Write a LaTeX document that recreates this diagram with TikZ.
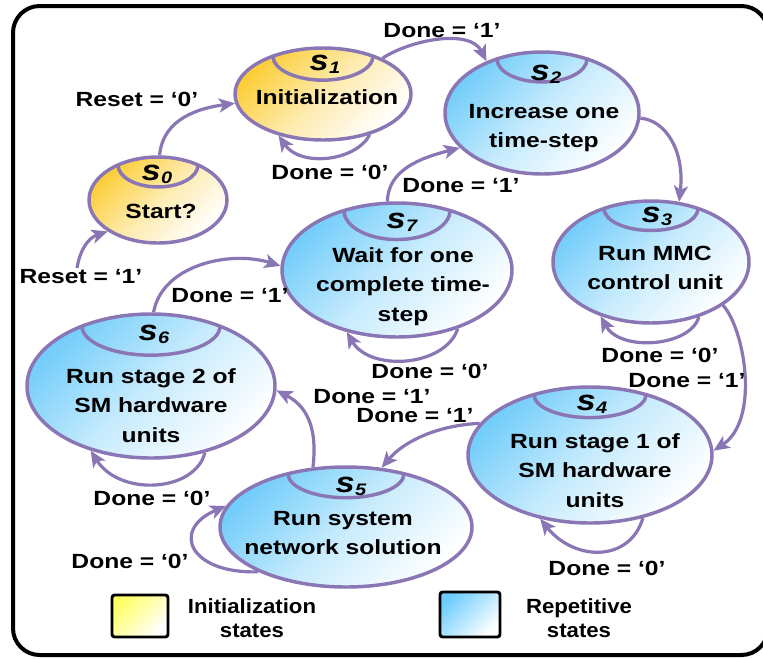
\documentclass[tikz,border=0pt]{standalone}
\usepackage{fontspec}
\setmainfont{Liberation Sans}
\newfontfamily\stfont{Liberation Sans}[FakeStretch=1.2]
\newfontfamily\lgfont{Liberation Sans}[FakeStretch=1.08]
\usetikzlibrary{shapes.geometric,arrows.meta}
\definecolor{purp}{RGB}{138,118,180}
\definecolor{yel}{RGB}{252,205,55}
\definecolor{blu}{RGB}{115,205,250}
\definecolor{lgyel}{RGB}{255,255,100}
\definecolor{lgblu}{RGB}{110,205,255}
\newcommand\pxu{0.75pt}
\newcommand\sid[1]{s\kern0.3pt\raisebox{-2.4pt}{\fontsize{12.5pt}{13pt}\selectfont #1}}
\newcommand\capline[6]{%
  \pgfmathsetmacro\capy{#2-#4*sqrt(1-(#5/#3)^2)}%
  \draw[capst] ({#1-#5},\capy) arc[start angle=180,end angle=0,x radius=#5,y radius=#6];}
\begin{document}
\begin{tikzpicture}[x=0.75pt,y=-0.75pt,
  st/.style={shape=ellipse, draw=purp, line width=2.6pt, inner sep=0pt},
  stY/.style={st, top color=yel, bottom color=white, middle color=yel!40!white, shading angle=45},
  stB/.style={st, top color=blu, bottom color=white, middle color=blu!40!white, shading angle=45},
  capst/.style={draw=purp, line width=2.6pt},
  txt/.style={font=\stfont\bfseries\fontsize{15.4pt}{22.2pt}\selectfont, align=center, inner sep=0pt, anchor=north},
  lbl/.style={font=\stfont\bfseries\fontsize{15.4pt}{18pt}\selectfont, inner sep=0pt, anchor=base},
  sidst/.style={font=\stfont\bfseries\itshape\fontsize{21.5pt}{24pt}\selectfont, inner sep=0pt, anchor=base},
  conn/.style={draw=purp, line width=2.4pt, -{Stealth[length=12pt,width=10.5pt,inset=3pt]}},
  lgbox/.style={draw=black, line width=2.2pt, rounded corners=2pt},
  lgtxt/.style={font=\lgfont\bfseries\fontsize{15.4pt}{18pt}\selectfont, align=center, inner sep=0pt, anchor=north}
]
\useasboundingbox (0,0) rectangle (763,658);
\draw[line width=3pt, rounded corners=20pt] (13,6) rectangle (768,655);

% states
\node[stY, minimum width=138*\pxu, minimum height=86*\pxu] (s0) at (158,200) {};
\node[stY, minimum width=176*\pxu, minimum height=92*\pxu] (s1) at (323,94) {};
\node[stB, minimum width=194*\pxu, minimum height=122*\pxu] (s2) at (542,113) {};
\node[stB, minimum width=196*\pxu, minimum height=122*\pxu] (s3) at (651,262) {};
\node[stB, minimum width=230*\pxu, minimum height=134*\pxu] (s7) at (397,270) {};
\node[stB, minimum width=248*\pxu, minimum height=144*\pxu] (s6) at (151,386) {};
\node[stB, minimum width=244*\pxu, minimum height=136*\pxu] (s4) at (590,455) {};
\node[stB, minimum width=252*\pxu, minimum height=120*\pxu] (s5) at (346,527) {};

% caps
\capline{158}{200}{69}{43}{40}{22}
\capline{323}{94}{88}{46}{50}{24}
\capline{542}{113}{97}{61}{45}{23}
\capline{651}{262}{98}{61}{47}{22}
\capline{397}{270}{115}{67}{53}{29}
\capline{151}{386}{124}{72}{69}{29}
\capline{590}{455}{122}{68}{56}{23}
\capline{346}{527}{126}{60}{58}{24}

% state ids
\node[sidst] (id0) at (157,180) {\sid{0}};
\node[sidst] (id1) at (325,70) {\sid{1}};
\node[sidst] (id2) at (546,80) {\sid{2}};
\node[sidst] (id3) at (657,222) {\sid{3}};
\node[sidst] (id7) at (402,228) {\sid{7}};
\node[sidst] (id6) at (154,340) {\sid{6}};
\node[sidst] (id4) at (592,410) {\sid{4}};
\node[sidst] (id5) at (351,492) {\sid{5}};

% state texts
\node[txt] (t0) at (161,197.3) {\strut Start?};
\node[txt] (t1) at (327,83.3) {\strut Initialization};
\node[txt] (t2) at (544,97.3) {\strut Increase one\\time-step};
\node[txt] (t3) at (655,239.3) {\strut Run MMC\\control unit};
\node[txt] (t7) at (403,241.3) {\strut Wait for one\\complete time-\\step};
\node[txt] (t6) at (151,362.3) {\strut Run stage 2 of\\SM hardware\\units};
\node[txt] (t4) at (595,427.3) {\strut Run stage 1 of\\SM hardware\\units};
\node[txt] (t5) at (343,504.3) {\strut Run system\\network solution};

% connectors
\coordinate (rst) at (77,268);
\draw[conn] (rst) .. controls (80,250) and (88,238) .. (s0.212);
\draw[conn] (s0.88) .. controls (163,118) and (200,108) .. (s1.186);
\draw[conn] (s1.319) .. controls (355,162) and (300,167) .. (s1.223);
\draw[conn] (s1.31) .. controls (410,40) and (470,28) .. (s2.137);
\draw[conn] (s2.-3) .. controls (665,120) and (685,150) .. (s3.65);
\draw[conn] (s3.311) .. controls (690,347) and (620,352) .. (s3.227);
\draw[conn] (s3.329) .. controls (745,330) and (760,420) .. (s4.2);
\draw[conn] (s4.310) .. controls (630,562) and (575,562) .. (s4.232);
\draw[conn] (s4.164) .. controls (440,425) and (405,440) .. (s5.59);
\draw[conn] (s5.207) .. controls (190,574) and (170,530) .. (s5.170);
\draw[conn] (s5.119) .. controls (318,425) and (305,405) .. (s6.-2);
\draw[conn] (s6.309) .. controls (195,492) and (120,497) .. (s6.227);
\draw[conn] (s6.88) .. controls (162,265) and (230,250) .. (s7.178);
\draw[conn] (s7.316) .. controls (445,367) and (370,372) .. (s7.231);
\draw[conn] (s7.98) .. controls (388,170) and (420,158) .. (s2.203);

% connector labels
\node[lbl] (lr1) at (81,283) {Reset = ‘1’};
\node[lbl] (lr0) at (137,106) {Reset = ‘0’};
\node[lbl] (l3) at (330,179) {Done = ‘0’};
\node[lbl] (l4) at (442,37) {Done = ‘1’};
\node[lbl] (l15) at (461,192) {Done = ‘1’};
\node[lbl] (l6) at (660,362) {Done = ‘0’};
\node[lbl] (l7) at (687,387) {Done = ‘1’};
\node[lbl] (l8) at (607,575) {Done = ‘0’};
\node[lbl] (l9) at (415,422) {Done = ‘1’};
\node[lbl] (l11) at (372,403) {Done = ‘1’};
\node[lbl] (l14) at (430,378) {Done = ‘0’};
\node[lbl] (l13) at (230,302) {Done = ‘1’};
\node[lbl] (l12) at (152,505) {Done = ‘0’};
\node[lbl] (l10) at (130,568) {Done = ‘0’};

% legend
\node[lgbox, top color=lgyel, bottom color=white, shading angle=45, minimum width=56*\pxu, minimum height=42*\pxu] (legY) at (140,616) {};
\node[lgbox, top color=lgblu, bottom color=white, shading angle=45, minimum width=60*\pxu, minimum height=45*\pxu] (legB) at (470,614.5) {};
\node[lgtxt] (legYt) at (252,596.2) {\strut Initialization\\states};
\node[lgtxt] (legBt) at (579,596.2) {\strut Repetitive\\states};
\end{tikzpicture}
\end{document}
